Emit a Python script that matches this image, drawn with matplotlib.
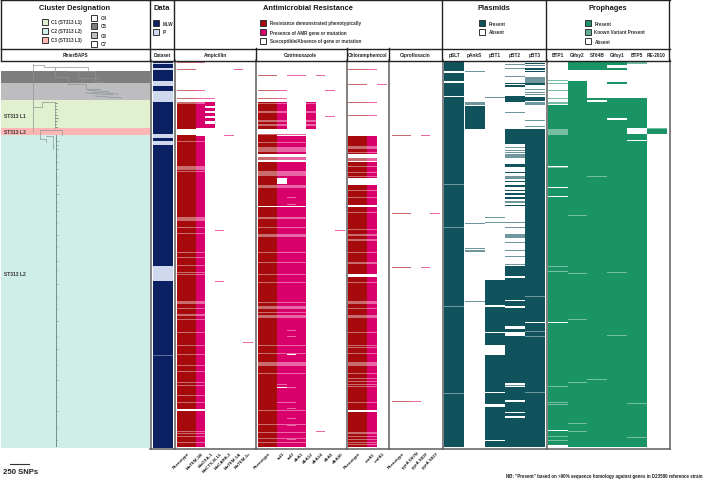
import numpy as np
import matplotlib
matplotlib.use('Agg')
import matplotlib.pyplot as plt
from matplotlib.colors import LinearSegmentedColormap
from matplotlib.patches import Rectangle

plt.rcParams['font.family'] = ['Liberation Sans', 'DejaVu Sans']

N_ROWS = 387

# every track: runs of isolates (start, stop) + single faint rows
dataset_runs = [(1, 2), (3, 7), (9, 20), (25, 30), (41, 73), (77, 80), (84, 205), (220, 387)]
dataset_lines = [294]

# ampicillin
amp_shared = [80, 105, 106, 107, 108, 110, 156, 157, 158, 159, 166, 172, 191, 196, 204, 211, 213, 240, 241, 242,
              247, 253, 254, 258, 271, 284, 293, 304, 310, 321, 324, 334, 341, 370, 372, 375, 381]
amp_pheno_runs = [(43, 68), (74, 348), (350, 386)]
amp_pheno_lines = [1, 8, 29, 37, 41, 42] + amp_shared
tem1b_runs = [(43, 67), (75, 348), (350, 386)]
tem1b_lines = [1, 29, 37, 41, 42] + amp_shared
oxa1_runs = [(41, 45), (47, 50), (52, 55), (57, 60), (63, 67)]
oxa1_lines = [37]
ctx_lines = [169, 220]
carb2_lines = [74]
tem1a_lines = [8]
tem1c_lines = [281]

# cotrimoxazole
cot_top = [42, 50, 51, 59, 60, 63, 64]
cot_shared = [81, 86, 87, 88, 89, 90, 96, 97, 98, 110, 111, 112, 113, 114, 124, 125, 126, 156, 157, 166,
              173, 174, 175, 191, 201, 213, 221, 241, 245, 246, 247, 251, 254, 255, 256, 284, 292,
              301, 302, 303, 304, 312, 349, 363, 371, 377, 381]
cot_pheno_runs = [(41, 68), (74, 93), (101, 145), (146, 386)]
cot_pheno_lines = [14, 29, 37, 73] + cot_top + cot_shared
sul1_runs = [(41, 68), (75, 93), (101, 117), (123, 145), (146, 326), (327, 371), (372, 386)]
sul1_lines = [29, 37, 73, 323, 341] + cot_top + cot_shared
sul2_runs = [(75, 88), (89, 93), (101, 110), (111, 145), (146, 293), (294, 386)]
sul2_lines = [14, 73, 136, 143, 269, 275, 326, 347, 357, 364, 378, 341] + cot_shared
dfra1_runs = [(75, 93), (101, 145), (146, 386)]
dfra1_lines = [14, 73] + cot_shared
dfra12_runs = [(41, 68)]
dfra12_lines = cot_top
dfra14_lines = [14, 370]
dfra5_lines = [29, 55]
dfra30_lines = [169]

# chloramphenicol
chl_shared = [85, 86, 87, 91, 97, 98, 99, 105, 111, 115, 129, 136, 151, 168, 173, 174, 178, 179, 191, 201, 202,
              221, 240, 241, 242, 247, 254, 255, 256, 271, 284, 286, 292, 301, 302, 303, 304, 312,
              317, 320, 323, 325, 341, 371, 372, 375, 378, 381, 383]
chl_runs = [(75, 93), (101, 117), (124, 144), (146, 213), (216, 349), (351, 386)]
chl_pheno_lines = [8, 23, 41, 54] + chl_shared
cata1_lines = [8, 41, 54] + chl_shared
cmla1_lines = [23]

# ciprofloxacin
cip_pheno_lines = [74, 152, 206, 340]
d87n_lines = [340]
s83f_lines = [74, 206]
s83y_lines = [152]

# plasmids
pslt_runs = [(1, 10), (12, 20), (22, 35), (36, 386)]
pslt_lines = [123, 166, 245, 332]
pank_runs = [(45, 68)]
pank_lines = [10, 41, 42, 43, 162, 187, 189, 190, 240]
pbt1_runs = [(219, 244), (246, 271), (272, 284), (294, 331), (332, 343), (346, 379), (380, 386)]
pbt1_lines = [36, 156, 161]
pbt2_runs = [(22, 23), (24, 26), (35, 41), (68, 83), (103, 106), (111, 112), (120, 121), (124, 126), (129, 130),
             (132, 134), (136, 138), (144, 145), (205, 215), (217, 239), (240, 245), (247, 265), (268, 271),
             (275, 322), (326, 339), (341, 351), (352, 355), (357, 386)]
pbt2_lines = [3, 7, 15, 51, 86, 89, 91, 93, 94, 95, 96, 115, 116, 117, 140, 141, 161, 166, 173, 174, 175, 176, 181,
              189, 195, 203, 324]
pbt3_runs = [(2, 3), (7, 9), (10, 11), (22, 24), (36, 40), (68, 261), (262, 386)]
pbt3_lines = [4, 16, 17, 18, 19, 20, 21, 28, 31, 33, 41, 42, 43, 59, 65, 235, 270, 275, 331]

# prophages
btp1_runs = [(44, 68), (74, 105), (106, 126), (127, 135), (136, 261), (262, 369), (370, 384)]
btp1_lines = [19, 22, 29, 37, 41, 42, 68, 69, 70, 71, 72, 73, 106, 205, 210, 325, 341, 343, 375, 379]
gifsy2_runs = [(1, 9), (20, 386)]
gifsy2_lines = [154, 212, 258, 321, 362, 370]
st64b_runs = [(1, 9), (37, 39), (41, 386)]
st64b_lines = [115, 318]
gifsy1_runs = [(1, 4), (7, 9), (21, 23), (37, 57), (59, 386)]
gifsy1_lines = [211, 274]
btp5_runs = [(37, 67), (73, 79), (80, 386)]
btp5_lines = [1, 2, 342, 376]
re2010_runs = [(68, 73)]
re2010_lines = [67]

# tree, tips along the L2 spine in SNPs
tips_y = [142, 146, 150, 157, 163, 170, 178, 186, 195, 203, 212, 224, 236, 248, 262, 271, 285, 298, 310, 322,
          337, 350, 366, 381, 398, 412, 428, 441]
tips_len = [6, 3, 4, 2, 3, 4, 2, 3, 5, 2, 3, 2, 4, 2, 3, 2, 3, 2, 2, 4, 2, 3, 2, 3, 2, 3, 2, 2]
l1_tips_y = [104, 107, 110, 113, 116, 119, 122, 125, 128]
l1_tips_len = [3, 2, 4, 2, 3, 5, 3, 2, 4]

RED = '#a60a0c'
PINK = '#d9006c'
TEAL = '#10535c'
GREEN = '#1b9465'
NAVY = '#0b1f63'
PALE_NAVY = '#cfd8ec'
C1 = '#e1f0cf'
C2 = '#d0eee8'
C3 = '#ffb7b5'
C5 = '#7d7d7d'
C6 = '#bdbdbf'
EDGE = '#5c5c5c'


def track(runs, lines):
    row = np.zeros(N_ROWS)
    for start, stop in runs:
        row[start:stop] = 1
    for r in lines:
        row[r] = 0.6
    return row.reshape(-1, 1)


def draw_column(ax, x0, width, runs, lines, color, low='white'):
    cmap = LinearSegmentedColormap.from_list('c', [low, color])
    ax.imshow(track(runs, lines), cmap=cmap, vmin=0, vmax=1, aspect='auto', interpolation='nearest',
              extent=(x0, x0 + width, 449, 62), zorder=2)


def draw_names(ax, centers, names):
    for c, name in zip(centers, names):
        ax.text(c + 1, 452, name, rotation=45, ha='right', va='top', rotation_mode='anchor',
                fontsize=3.2, fontweight='bold', color='#222222')


fig = plt.figure(figsize=(7.06, 4.81), dpi=100)
ax = fig.add_axes([0, 0, 1, 1])

# cluster bands
ax.add_patch(Rectangle((1, 71.5), 148.5, 12.5, color=C5, lw=0))
ax.add_patch(Rectangle((1, 84), 148.5, 16.5, color=C6, lw=0))
ax.add_patch(Rectangle((1, 100.5), 148.5, 28.5, color=C1, lw=0))
ax.add_patch(Rectangle((1, 129), 148.5, 7, color=C3, lw=0))
ax.add_patch(Rectangle((1, 136), 148.5, 313, color=C2, lw=0))
for name, y in [('ST313 L1', 116), ('ST313 L3', 132.5), ('ST313 L2', 275)]:
    ax.text(4, y, name, fontsize=3.6, fontweight='bold', color='#333333', va='center')

# tree
tree_col = '#8d9593'
segments = [([33, 33], [65, 133]), ([33, 44, 44, 88, 88], [66, 66, 68, 68, 71]), ([55, 55, 68, 68], [68, 78, 78, 85]),
            ([68, 95, 95], [72, 72, 80]), ([68, 86, 86, 100], [85, 85, 90, 90]), ([86, 113], [94, 96]),
            ([78, 78, 98], [72, 79, 79]), ([92, 105], [82, 84]), ([88, 110], [91, 93]), ([95, 122], [97, 99]),
            ([92, 118], [93, 95]), ([33, 42, 42, 47], [108, 108, 103, 103]),
            ([47, 55, 55], [103, 103, 129]), ([40, 62, 62], [131, 131, 136]), ([40, 40, 46, 46], [131, 140, 140, 143]),
            ([46, 53, 53], [137, 137, 150])]
for xs, ys in segments:
    ax.plot(xs, ys, color=tree_col, lw=0.5, zorder=1.5)
ax.plot([56, 56], [136, 447], color='#78908c', lw=0.7, zorder=1.5)
for y, n in zip(tips_y, tips_len):
    ax.plot([56, 56 + n * 0.5], [y, y], color='#7b908d', lw=0.4, zorder=1.5)
for y, n in zip(l1_tips_y, l1_tips_len):
    ax.plot([55, 55 + n * 0.5], [y, y], color='#5f7a5f', lw=0.5, zorder=1.5)

# heatmap
draw_column(ax, 153, 19.3, dataset_runs, dataset_lines, NAVY, low=PALE_NAVY)

amp = [(amp_pheno_runs, amp_pheno_lines), (tem1b_runs, tem1b_lines), (oxa1_runs, oxa1_lines), ([], ctx_lines),
       ([], carb2_lines), ([], tem1a_lines), ([], tem1c_lines)]
cot = [(cot_pheno_runs, cot_pheno_lines), (sul1_runs, sul1_lines), (sul2_runs, sul2_lines), (dfra1_runs, dfra1_lines),
       (dfra12_runs, dfra12_lines), ([], dfra14_lines), ([], dfra5_lines), ([], dfra30_lines)]
chl = [(chl_runs, chl_pheno_lines), (chl_runs, cata1_lines), ([], cmla1_lines)]
cip = [([], cip_pheno_lines), ([], d87n_lines), ([], s83f_lines), ([], s83y_lines)]

amp_names = ['Phenotype', 'blaTEM-1B', 'blaOXA-1', 'blaCTX-M-15', 'blaCARB-2', 'blaTEM-1A', 'blaTEM-1c']
cot_names = ['Phenotype', 'sul1', 'sul2', 'dfrA1', 'dfrA12', 'dfrA14', 'dfrA5', 'dfrA30']
chl_names = ['Phenotype', 'catA1', 'cmlA1']
cip_names = ['Phenotype', 'gyrA D87N', 'gyrA S83F', 'gyrA S83Y']

for start, gene_w, cols, names in [(176.5, 9.5, amp, amp_names), (257.6, 9.7, cot, cot_names),
                                   (348, 9.7, chl, chl_names), (391.5, 9.7, cip, cip_names)]:
    x = start
    centers = []
    for i, (runs, lines) in enumerate(cols):
        w = 19.3 if i == 0 else gene_w
        draw_column(ax, x, w - 0.4, runs, lines, RED if i == 0 else PINK)
        centers.append(x + w / 2)
        x += w
    draw_names(ax, centers, names)

plasmids = [(pslt_runs, pslt_lines), (pank_runs, pank_lines), (pbt1_runs, pbt1_lines), (pbt2_runs, pbt2_lines),
            (pbt3_runs, pbt3_lines)]
plasmid_names = ['pSLT', 'pAnkS', 'pBT1', 'pBT2', 'pBT3']
for i, (runs, lines) in enumerate(plasmids):
    x = 444.3 + i * 20.2
    draw_column(ax, x, 19.4, runs, lines, TEAL)
    ax.text(x + 9.7, 55.5, plasmid_names[i], fontsize=3.4, fontweight='bold', ha='center', va='center', color='#222222')

prophages = [(btp1_runs, btp1_lines), (gifsy2_runs, gifsy2_lines), (st64b_runs, st64b_lines),
             (gifsy1_runs, gifsy1_lines), (btp5_runs, btp5_lines), (re2010_runs, re2010_lines)]
prophage_names = ['BTP1', 'Gifsy2', 'ST64B', 'Gifsy1', 'BTP5', 'RE-2010']
for i, (runs, lines) in enumerate(prophages):
    x = 548 + i * 19.7
    draw_column(ax, x, 19.2, runs, lines, GREEN)
    ax.text(x + 9.6, 55.5, prophage_names[i], fontsize=3.4, fontweight='bold', ha='center', va='center', color='#222222')

# frame
for x in [151, 174.5, 255.5, 346.5, 388.5, 442.5, 546.5, 669.5]:
    ax.plot([x, x], [61, 449.5], color=EDGE, lw=1.1, zorder=3)
for x in [150, 174, 442, 546, 669]:
    ax.plot([x, x], [1, 61], color='#222222', lw=1.0, zorder=3)
for x in [255.5, 346.5, 388.5]:
    ax.plot([x, x], [49, 61], color='#222222', lw=1.0, zorder=3)
ax.plot([1, 1], [1, 61], color='#222222', lw=1.0, zorder=3)
for y in [1, 49.5, 61.5]:
    ax.plot([1, 669.5], [y, y], color='#222222', lw=1.0, zorder=3)
ax.plot([150, 669.5], [449.5, 449.5], color=EDGE, lw=1.1, zorder=3)

# titles
for label, x in [('Cluster Designation', 74.5), ('Data', 162), ('Antimicrobial Resistance', 308), ('Plasmids', 494),
                 ('Prophages', 607.5)]:
    ax.text(x, 9, label, fontsize=5.4, fontweight='bold', ha='center', va='center', color='#1a1a1a')
for label, x in [('RhierBAPS', 75), ('Dataset', 162), ('Ampicillin', 215), ('Cotrimoxazole', 300),
                 ('Chloramphenicol', 367.5), ('Ciprofloxacin', 415)]:
    ax.text(x, 55.5, label, fontsize=3.4, fontweight='bold', ha='center', va='center', color='#222222')

# legends
legend = [(41.7, 22.5, C1, 'C1 (ST313 L1)'), (41.7, 31.5, C2, 'C2 (ST313 L2)'), (41.7, 40.5, C3, 'C3 (ST313 L3)'),
          (91.3, 19, 'white', 'C4'), (91.3, 27, C5, 'C5'), (91.3, 36, C6, 'C6'), (91.3, 44.5, 'white', 'C7'),
          (153, 24, NAVY, 'MLW'), (153, 33, PALE_NAVY, 'IP'),
          (260.3, 24, RED, 'Resistance demonstrated phenotypically'), (260.3, 33, PINK, 'Presence of AMR gene or mutation'),
          (260.3, 42, 'white', 'Susceptible/Absence of gene or mutation'),
          (479, 24, TEAL, 'Present'), (479, 33, 'white', 'Absent'),
          (585, 24, GREEN, 'Present'), (585, 33, '#5fae8f', 'Known Variant Present'), (585, 42, 'white', 'Absent')]
for x, y, col, label in legend:
    ax.add_patch(Rectangle((x, y - 3), 6, 6, facecolor=col, edgecolor='#333333', lw=0.7, zorder=3))
    ax.text(x + 9.5, y, label, fontsize=3.3, fontweight='bold', va='center', color='#333333')

# scale bar and note
ax.plot([10, 29], [464.5, 464.5], color='#333333', lw=0.8)
ax.text(3, 473, '250 SNPs', fontsize=5.6, fontweight='bold', va='center', color='#222222')
ax.text(506.5, 477, 'NB: "Present" based on >90% sequence homology against genes in D23580 reference strain',
        fontsize=3.25, fontweight='bold', va='center', color='#222222')

ax.set_xlim(0, 706)
ax.set_ylim(481, 0)
ax.axis('off')
fig.savefig('out.png', dpi=100)
